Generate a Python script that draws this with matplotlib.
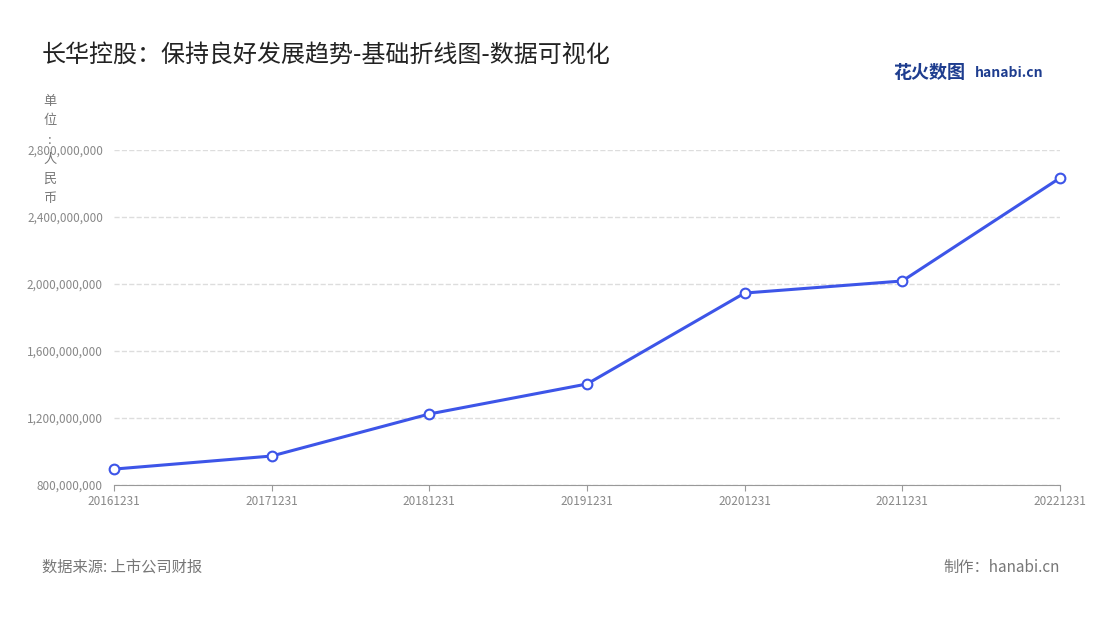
import matplotlib.pyplot as plt
from matplotlib.ticker import FuncFormatter

plt.rcParams['font.family'] = ['Noto Sans CJK SC', 'DejaVu Sans']

dates = ['20161231', '20171231', '20181231', '20191231', '20201231', '20211231', '20221231']
values = [895e6, 973e6, 1224e6, 1403e6, 1946e6, 2018e6, 2633e6]

fig = plt.figure(figsize=(11, 6.2), dpi=100)
ax = fig.add_axes([114/1100, 1-485/620, (1060-114)/1100, (485-150)/620])

ax.plot(range(len(dates)), values, color='#3d55e8', lw=2.2, marker='o', ms=7,
        mfc='white', mec='#3d55e8', mew=1.5, zorder=3, clip_on=False)

ax.set_xlim(0, len(dates)-1)
ax.set_ylim(800e6, 2800e6)
ax.set_yticks([800e6, 1200e6, 1600e6, 2000e6, 2400e6, 2800e6])
ax.yaxis.set_major_formatter(FuncFormatter(lambda v, p: f'{v:,.0f}'))
ax.set_xticks(range(len(dates)))
ax.set_xticklabels(dates)
ax.tick_params(axis='both', labelsize=8.5, colors='#888888', length=4)
ax.tick_params(axis='y', length=0, pad=8)
ax.tick_params(axis='x', color='#999999')
ax.grid(axis='y', ls='--', color='#dddddd', lw=1)
for s in ['top', 'right', 'left']:
    ax.spines[s].set_visible(False)
ax.spines['bottom'].set_color('#999999')

fig.text(42/1100, 1-55/620, '长华控股：保持良好发展趋势-基础折线图-数据可视化', fontsize=17.3,
         color='#222222', va='center')
fig.text(50/1100, 1-150/620, '单\n位\n:\n人\n民\n币', fontsize=9.5, color='#777777',
         ha='center', va='center', linespacing=1.65)
fig.text(893/1100, 1-73/620, '花火数图', fontsize=13, color='#1e3d8f', weight='bold', va='center')
fig.text(975/1100, 1-73/620, 'hanabi.cn', fontsize=10, color='#1e3d8f', weight='bold', va='center')
fig.text(42/1100, 1-567/620, '数据来源: 上市公司财报', fontsize=11, color='#777777', va='center')
fig.text(1060/1100, 1-567/620, '制作：hanabi.cn', fontsize=11, color='#777777', va='center', ha='right')

fig.savefig('out.png', dpi=100)
